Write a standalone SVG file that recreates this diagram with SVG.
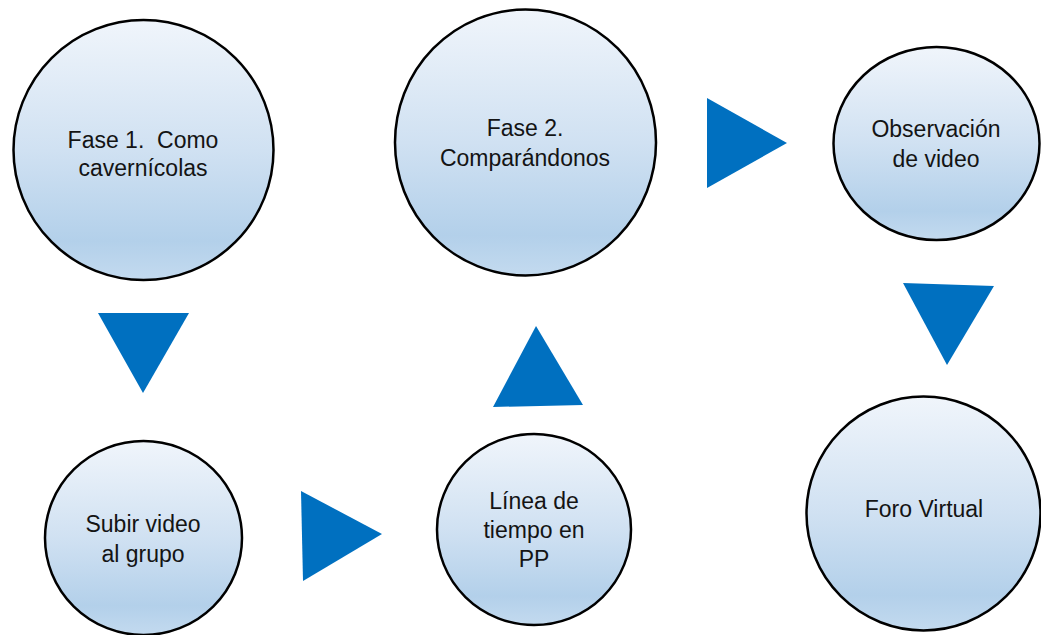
<svg xmlns="http://www.w3.org/2000/svg" width="1041" height="635" viewBox="0 0 1041 635">
<style>
.node{stroke:#000;stroke-width:2.5;fill:url(#g)}
.lbl{font-family:"Liberation Sans",Arial,sans-serif;font-size:23px;fill:#141414;text-anchor:middle}
.arr{fill:#0070C0}
</style>
<defs>
<linearGradient id="g" x1="0" y1="0" x2="0" y2="1">
<stop offset="0" stop-color="#f0f5fb"/>
<stop offset="0.5" stop-color="#d0e1f2"/>
<stop offset="0.85" stop-color="#b3d0ea"/>
<stop offset="1" stop-color="#c3daef"/>
</linearGradient>
</defs>
<rect width="1041" height="635" fill="#fff"/>
<g id="n1"><ellipse class="node" cx="143.5" cy="150" rx="130" ry="130"/><text class="lbl" x="143" y="148" xml:space="preserve">Fase 1.  Como</text><text class="lbl" x="143" y="176">cavernícolas</text></g>
<g id="n2"><ellipse class="node" cx="525.5" cy="142.5" rx="130.5" ry="133"/><text class="lbl" x="525" y="136">Fase 2.</text><text class="lbl" x="525" y="166">Comparándonos</text></g>
<g id="n3"><ellipse class="node" cx="936.5" cy="143.5" rx="103" ry="96.5"/><text class="lbl" x="936" y="137">Observación</text><text class="lbl" x="936" y="167">de video</text></g>
<g id="n4"><ellipse class="node" cx="143.5" cy="538" rx="98.5" ry="97"/><text class="lbl" x="143" y="532">Subir video</text><text class="lbl" x="143" y="562">al grupo</text></g>
<g id="n5"><ellipse class="node" cx="534" cy="529.5" rx="97" ry="95.5"/><text class="lbl" x="534" y="509">Línea de</text><text class="lbl" x="534" y="538">tiempo en</text><text class="lbl" x="534" y="567">PP</text></g>
<g id="n6"><ellipse class="node" cx="923.5" cy="513.5" rx="117" ry="117"/><text class="lbl" x="924" y="517">Foro Virtual</text></g>
<g id="connectors">
<polygon class="arr" points="98,313 189,313 143,393"/>
<polygon class="arr" points="301,491 303,581 382,534"/>
<polygon class="arr" points="536,326 493,407 583,405"/>
<polygon class="arr" points="707,98 707,188 787,143"/>
<polygon class="arr" points="903,283 994,286 947,365"/>
</g>
</svg>
